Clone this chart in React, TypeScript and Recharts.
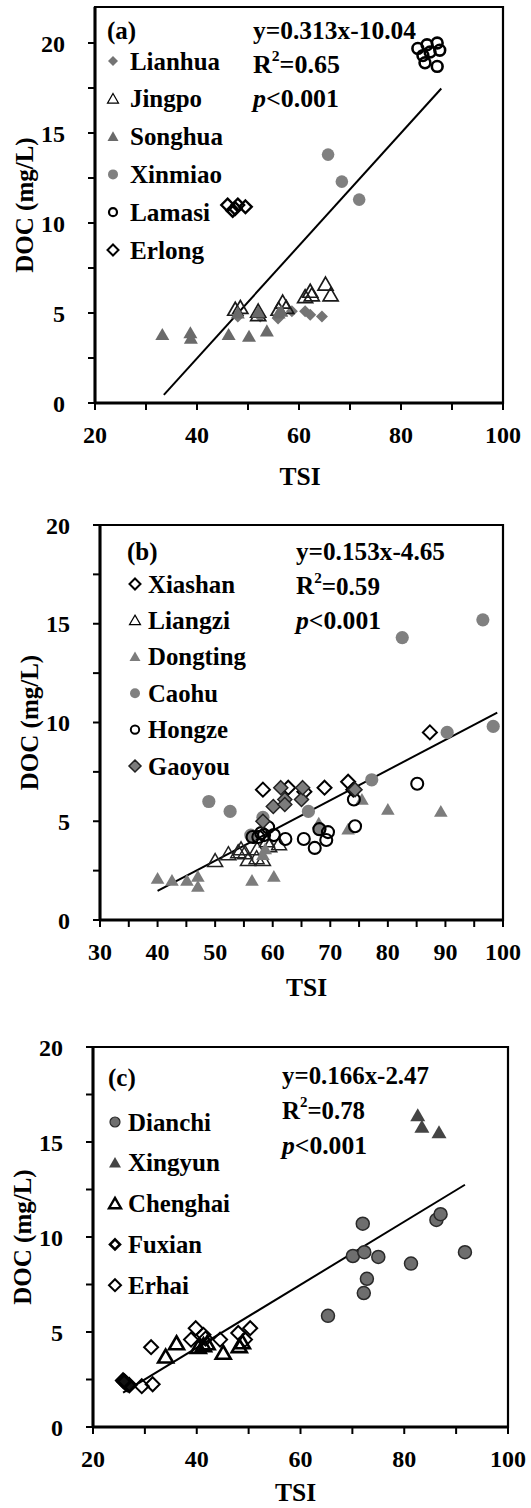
import React from "react";
import { ScatterChart, Scatter, XAxis, YAxis, ReferenceLine, ReferenceArea } from "recharts";

// ---------- Panel (a) data: [TSI, DOC] ----------
const lianhua = [[48, 4.8], [52.4, 4.8], [55.9, 4.7], [58.6, 5.1], [61.2, 5.1], [62.2, 4.9], [64.5, 4.8]];
const jingpo = [[47.5, 5.2], [48.5, 5.3], [52, 5.1], [52, 4.9], [56, 5.2], [56.8, 5.6], [57.5, 5.3], [61.2, 5.9], [62.2, 6.2], [62.5, 6.0], [65.2, 6.6], [66.2, 6.0]];
const songhua = [[33.2, 3.8], [38.7, 3.9], [38.8, 3.6], [46.2, 3.8], [50.2, 3.7], [53.7, 4.0], [48, 5.0], [52, 5.05], [56, 5.0], [56.5, 5.1]];
const xinmiao = [[65.7, 13.8], [68.4, 12.3], [71.8, 11.3]];
const lamasi = [[83.3, 19.7], [85.1, 19.9], [87.1, 20.0], [87.6, 19.6], [84.3, 19.3], [84.7, 18.9], [87.1, 18.7], [85.7, 19.5]];
const erlong = [[46, 11.0], [47, 10.7], [48, 11.0], [49.5, 10.9], [47.5, 10.8]];
const fitA = [[33.5, 0.45], [87.9, 17.47]];

// ---------- Panel (b) data ----------
const xiashan = [[58.3, 6.6], [62.7, 6.7], [65.5, 6.5], [69, 6.7], [73.1, 7.0], [74, 6.6], [87.3, 9.5]];
const liangzi = [[50, 3.0], [52.3, 3.35], [54, 3.45], [54.5, 3.6], [55.2, 3.4], [55.7, 3.05], [57.2, 3.15], [58.3, 3.05], [57.3, 3.6], [59.4, 3.75], [61.1, 3.85], [59, 4.0]];
const dongting = [[40, 2.1], [42.5, 2.0], [45.1, 2.0], [47, 2.2], [47, 1.7], [56.4, 2.0], [60.2, 2.2], [58.3, 3.3], [58.7, 3.6], [68, 4.9], [73.1, 4.6], [75.5, 6.1], [80, 5.6], [89.2, 5.5]];
const caohu = [[48.9, 6.0], [52.6, 5.5], [56.2, 4.3], [58.3, 5.2], [66.2, 5.5], [68.2, 4.6], [77.2, 7.1], [82.5, 14.3], [90.3, 9.5], [96.5, 15.2], [98.3, 9.8]];
const hongze = [[56.5, 4.2], [57.5, 4.2], [58.5, 4.3], [59.2, 4.7], [60.2, 4.3], [62.2, 4.1], [65.4, 4.1], [67.3, 3.65], [69.3, 4.05], [69.6, 4.45], [68.1, 4.6], [74.1, 6.1], [74.3, 4.75], [85.1, 6.9], [58, 4.4]];
const gaoyou = [[58.3, 5.0], [60.1, 5.75], [61.4, 6.7], [62.1, 6.1], [62.1, 5.85], [65, 6.1], [65.2, 6.7], [74.3, 6.6]];
const fitB = [[40, 1.47], [99, 10.5]];

// ---------- Panel (c) data ----------
const dianchi = [[65.3, 5.85], [70.1, 9.0], [72, 10.7], [72.3, 9.2], [72.2, 7.05], [72.8, 7.8], [75, 8.95], [81.3, 8.6], [86.2, 10.9], [87, 11.2], [91.7, 9.2]];
const xingyun = [[82.6, 16.4], [83.4, 15.8], [86.7, 15.5]];
const chenghai = [[34, 3.7], [36.1, 4.4], [40.3, 4.2], [41.3, 4.3], [42, 4.4], [45.1, 3.9], [48.2, 4.25], [48.8, 4.45]];
const fuxian = [[25.8, 2.45], [26.2, 2.35], [26.6, 2.25], [27, 2.2], [26, 2.4]];
const erhai = [[29.4, 2.15], [31.5, 2.25], [31.2, 4.2], [38.9, 4.6], [39.8, 5.2], [41.3, 4.85], [41.7, 4.65], [44.5, 4.6], [48, 4.95], [49.3, 4.6], [50.3, 5.2]];
const fitC = [[25.8, 1.81], [91.7, 12.75]];

// ---------- ticks & labels ----------
const ticksX_AC = [20, 30, 40, 50, 60, 70, 80, 90, 100];
const ticksX_B = [30, 35, 40, 45, 50, 55, 60, 65, 70, 75, 80, 85, 90, 95, 100];
const ticksY = [0, 2.5, 5, 7.5, 10, 12.5, 15, 17.5, 20];
const legendA = ["Lianhua", "Jingpo", "Songhua", "Xinmiao", "Lamasi", "Erlong"];
const legendB = ["Xiashan", "Liangzi", "Dongting", "Caohu", "Hongze", "Gaoyou"];
const legendC = ["Dianchi", "Xingyun", "Chenghai", "Fuxian", "Erhai"];
const statsA = ["y=0.313x-10.04", "0.65", "<0.001"];
const statsB = ["y=0.153x-4.65", "0.59", "<0.001"];
const statsC = ["y=0.166x-2.47", "0.78", "<0.001"];

// rendered text widths (px) as measured on the reference
const legWA = [90, 72, 93, 92, 80, 74];
const legWB = [87, 82, 98, 70, 80, 82];
const legWC = [83, 92, 102, 74, 61];
const statWA = [163, 87, 86];
const statWB = [149, 84, 85];
const statWC = [147, 83, 85];

const FONT = '"Liberation Serif","Times New Roman",serif';
const pts = (a: number[][]) => a.map(([x, y]) => ({ x, y }));

type Sty = { kind: string; s: number; fill: string; stroke: string; sw: number };

function Mark({ cx, cy, st }: { cx: number; cy: number; st: Sty }) {
  const { kind, s, fill, stroke, sw } = st;
  if (kind === "circle") return <circle cx={cx} cy={cy} r={s} fill={fill} stroke={stroke} strokeWidth={sw} />;
  if (kind === "diamond")
    return <path d={`M${cx},${cy - s}L${cx + s},${cy}L${cx},${cy + s}L${cx - s},${cy}Z`} fill={fill} stroke={stroke} strokeWidth={sw} strokeLinejoin="miter" />;
  const h = s * 1.73;
  return <path d={`M${cx},${cy - h * 0.55}L${cx + s},${cy + h * 0.45}L${cx - s},${cy + h * 0.45}Z`} fill={fill} stroke={stroke} strokeWidth={sw} strokeLinejoin="miter" />;
}
const shapeOf = (st: Sty) => (p: any) => {
  if (p == null || p.cx == null || p.cy == null) return <g />;
  return <Mark cx={p.cx} cy={p.cy} st={st} />;
};

const stA: Sty[] = [
  { kind: "diamond", s: 6, fill: "#747474", stroke: "none", sw: 0 },
  { kind: "tri", s: 7.5, fill: "none", stroke: "#1a1a1a", sw: 1.7 },
  { kind: "tri", s: 7, fill: "#6a6a6a", stroke: "none", sw: 0 },
  { kind: "circle", s: 6.3, fill: "#808080", stroke: "none", sw: 0 },
  { kind: "circle", s: 5.4, fill: "none", stroke: "#000", sw: 2.6 },
  { kind: "diamond", s: 6.3, fill: "none", stroke: "#000", sw: 2.4 },
];
const stB: Sty[] = [
  { kind: "diamond", s: 7, fill: "none", stroke: "#000", sw: 2 },
  { kind: "tri", s: 7.5, fill: "none", stroke: "#222", sw: 1.5 },
  { kind: "tri", s: 6.8, fill: "#7c7c7c", stroke: "none", sw: 0 },
  { kind: "circle", s: 6.6, fill: "#808080", stroke: "none", sw: 0 },
  { kind: "circle", s: 6, fill: "none", stroke: "#000", sw: 2.1 },
  { kind: "diamond", s: 7, fill: "#7c7c7c", stroke: "#222", sw: 1.5 },
];
const stC: Sty[] = [
  { kind: "circle", s: 6.5, fill: "#6e6e6e", stroke: "#2a2a2a", sw: 1.5 },
  { kind: "tri", s: 7.5, fill: "#444", stroke: "none", sw: 0 },
  { kind: "tri", s: 7.5, fill: "none", stroke: "#000", sw: 2.6 },
  { kind: "diamond", s: 6.5, fill: "#111", stroke: "#000", sw: 3 },
  { kind: "diamond", s: 7, fill: "none", stroke: "#000", sw: 2 },
];
const stLegA: Sty[] = [
  { kind: "diamond", s: 5, fill: "#747474", stroke: "none", sw: 0 },
  { kind: "tri", s: 5.5, fill: "none", stroke: "#000", sw: 1.2 },
  { kind: "tri", s: 5.5, fill: "#6a6a6a", stroke: "none", sw: 0 },
  { kind: "circle", s: 5, fill: "#808080", stroke: "none", sw: 0 },
  { kind: "circle", s: 4, fill: "none", stroke: "#000", sw: 2.2 },
  { kind: "diamond", s: 5.5, fill: "none", stroke: "#000", sw: 2 },
];
const stLegB: Sty[] = [
  { kind: "diamond", s: 5.5, fill: "none", stroke: "#000", sw: 2 },
  { kind: "tri", s: 5.5, fill: "none", stroke: "#000", sw: 1.2 },
  { kind: "tri", s: 5.5, fill: "#7c7c7c", stroke: "none", sw: 0 },
  { kind: "circle", s: 5, fill: "#808080", stroke: "none", sw: 0 },
  { kind: "circle", s: 4.2, fill: "none", stroke: "#000", sw: 2 },
  { kind: "diamond", s: 6, fill: "#7c7c7c", stroke: "#222", sw: 1.5 },
];
const stLegC: Sty[] = [
  { kind: "circle", s: 5, fill: "#6e6e6e", stroke: "#2a2a2a", sw: 1.2 },
  { kind: "tri", s: 6, fill: "#444", stroke: "none", sw: 0 },
  { kind: "tri", s: 6, fill: "none", stroke: "#000", sw: 2.4 },
  { kind: "diamond", s: 5, fill: "#fff", stroke: "#000", sw: 2.6 },
  { kind: "diamond", s: 6, fill: "none", stroke: "#000", sw: 2 },
];

type PanelProps = {
  top: number; height: number; margin: any; xDomain: number[]; yDomain: number[];
  xTicks: number[]; xLabelEvery: number; series: number[][][]; styles: Sty[]; names: string[];
  fit: number[][]; tsiDx: number; tsiDy: number;
};

const tickStyle = { fontSize: 24, fontWeight: 700, fill: "#000", fontFamily: FONT };

function Panel(p: PanelProps) {
  return (
    <div style={{ position: "absolute", left: 0, top: p.top }}>
      <ScatterChart width={531} height={p.height} margin={p.margin}>
        <XAxis
          type="number" dataKey="x" domain={p.xDomain} ticks={p.xTicks} interval={0}
          allowDataOverflow height={60}
          tickFormatter={(v: number) => (v % p.xLabelEvery === 0 ? String(v) : "")}
          tick={tickStyle} tickSize={7} tickMargin={16}
          axisLine={{ stroke: "#000", strokeWidth: 3 }} tickLine={{ stroke: "#000", strokeWidth: 2 }}
          label={{
            content: (lp: any) => {
              const vb = lp.viewBox || {};
              return (
                <text x={vb.x + vb.width / 2 + p.tsiDx} y={vb.y + p.tsiDy} textAnchor="middle" dominantBaseline="central"
                  fontFamily={FONT} fontSize={25.5} fontWeight={700} fill="#000">TSI</text>
              );
            },
          }}
        />
        <YAxis
          type="number" dataKey="y" domain={p.yDomain} ticks={ticksY} interval={0} allowDataOverflow width={60}
          tickFormatter={(v: number) => (v % 5 === 0 ? String(v) : "")}
          tick={tickStyle} tickSize={7} tickMargin={23}
          axisLine={{ stroke: "#000", strokeWidth: 3 }} tickLine={{ stroke: "#000", strokeWidth: 2 }}
          label={{
            content: (lp: any) => {
              const vb = lp.viewBox || {};
              const x = vb.x + vb.width - 71;
              const y = vb.y + vb.height / 2;
              return (
                <text x={x} y={y} transform={`rotate(-90 ${x} ${y})`} textAnchor="middle" dominantBaseline="central"
                  fontFamily={FONT} fontSize={25} fontWeight={700} fill="#000">DOC (mg/L)</text>
              );
            },
          }}
        />
        <ReferenceArea x1={p.xDomain[0]} x2={p.xDomain[1]} y1={p.yDomain[0]} y2={p.yDomain[1]}
          fill="none" fillOpacity={0} stroke="#000" strokeWidth={2.2} ifOverflow="visible" />
        {p.series.map((d, i) => (
          <Scatter key={p.names[i]} name={p.names[i]} data={pts(d)} shape={shapeOf(p.styles[i])} isAnimationActive={false} />
        ))}
        <ReferenceLine segment={pts(p.fit)} stroke="#000" strokeWidth={2} ifOverflow="visible" />
      </ScatterChart>
    </div>
  );
}

function Notes({ tag, tagX, tagY, stats, statW, sx, sy, gap, names, legW, legSt, mx, tx, ly, lgap }: any) {
  const tp = { fontFamily: FONT, fontSize: 25, fontWeight: 700, fill: "#000", dominantBaseline: "central" } as any;
  return (
    <g>
      <text x={tagX} y={tagY} {...tp}>{tag}</text>
      <text x={sx} y={sy} {...tp} textLength={statW[0]} lengthAdjust="spacingAndGlyphs">{stats[0]}</text>
      <text x={sx} y={sy + gap} {...tp} textLength={statW[1]} lengthAdjust="spacingAndGlyphs">
        R<tspan dy={-8} fontSize={15}>2</tspan><tspan dy={8}>={stats[1]}</tspan>
      </text>
      <text x={sx} y={sy + gap * 2} {...tp} textLength={statW[2]} lengthAdjust="spacingAndGlyphs">
        <tspan fontStyle="italic">p</tspan>{stats[2]}
      </text>
      {names.map((n: string, i: number) => (
        <g key={n}>
          <Mark cx={mx} cy={ly + i * lgap} st={legSt[i]} />
          <text x={tx} y={ly + i * lgap} {...tp} textLength={legW[i]} lengthAdjust="spacingAndGlyphs">{n}</text>
        </g>
      ))}
    </g>
  );
}

export default function App() {
  return (
    <div style={{ position: "absolute", left: 0, top: 0, width: 531, height: 1508, background: "#fff", overflow: "hidden" }}>
      <Panel top={0} height={495} margin={{ top: 7, right: 28, left: 35, bottom: 32 }}
        xDomain={[20, 100]} yDomain={[0, 22]} xTicks={ticksX_AC} xLabelEvery={20}
        series={[lianhua, jingpo, songhua, xinmiao, lamasi, erlong]} styles={stA} names={legendA}
        fit={fitA} tsiDx={1} tsiDy={73} />
      <Panel top={495} height={515} margin={{ top: 30, right: 28, left: 40, bottom: 30 }}
        xDomain={[30, 100]} yDomain={[0, 20]} xTicks={ticksX_B} xLabelEvery={10}
        series={[xiashan, liangzi, dongting, caohu, hongze, gaoyou]} styles={stB} names={legendB}
        fit={fitB} tsiDx={5} tsiDy={67} />
      <Panel top={1010} height={498} margin={{ top: 37, right: 23, left: 33, bottom: 21 }}
        xDomain={[20, 100]} yDomain={[0, 20]} xTicks={ticksX_AC} xLabelEvery={20}
        series={[dianchi, xingyun, chenghai, fuxian, erhai]} styles={stC} names={legendC}
        fit={fitC} tsiDx={-5} tsiDy={65} />
      <svg width={531} height={1508} style={{ position: "absolute", left: 0, top: 0, pointerEvents: "none" }}>
        <Notes tag="(a)" tagX={107} tagY={30} stats={statsA} statW={statWA} sx={253} sy={30} gap={34}
          names={legendA} legW={legWA} legSt={stLegA} mx={113} tx={130} ly={61} lgap={37.8} />
        <Notes tag="(b)" tagX={127} tagY={551} stats={statsB} statW={statWB} sx={296} sy={551} gap={34.5}
          names={legendB} legW={legWB} legSt={stLegB} mx={135} tx={148} ly={584} lgap={36.4} />
        <Notes tag="(c)" tagX={108} tagY={1077} stats={statsC} statW={statWC} sx={282} sy={1075} gap={35}
          names={legendC} legW={legWC} legSt={stLegC} mx={115} tx={128} ly={1122} lgap={40.8} />
      </svg>
    </div>
  );
}
